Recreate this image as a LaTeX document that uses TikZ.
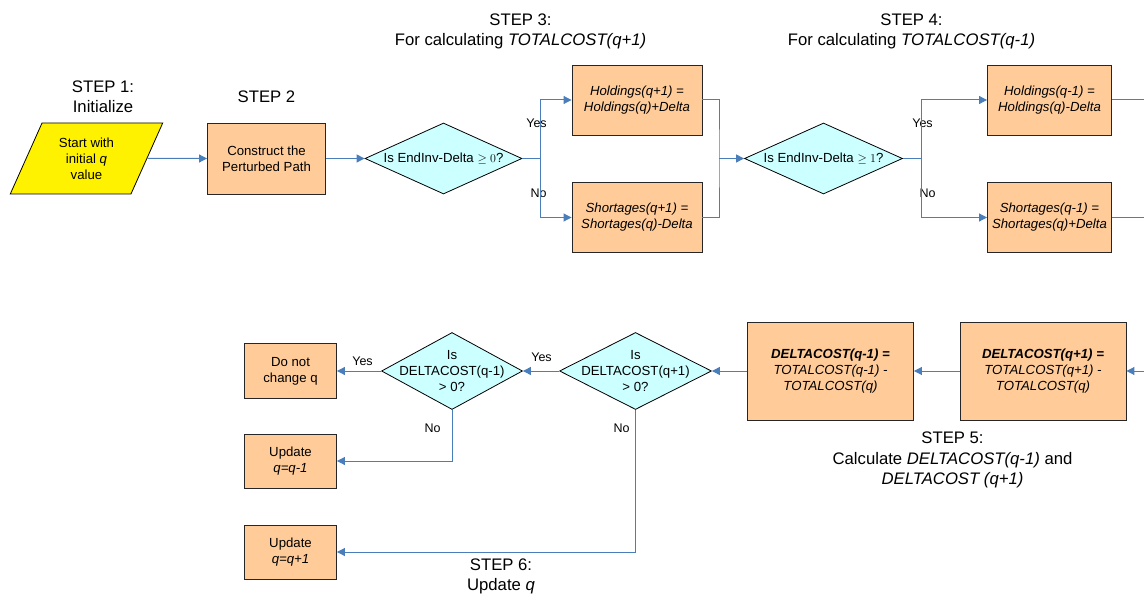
\documentclass[tikz,border=0pt]{standalone}
\usepackage{fontspec}
\setmainfont{Liberation Sans}
\usetikzlibrary{shapes.geometric, arrows.meta}
\definecolor{boxorange}{RGB}{255,204,153}
\definecolor{diacyan}{RGB}{204,255,255}
\definecolor{flowblue}{RGB}{74,126,187}
\newcommand{\flowfont}{\fontsize{13.2}{16}\selectfont}
\newcommand{\stepfont}{\fontsize{16.7}{20.5}\selectfont}
\newcommand{\lblfont}{\fontsize{12.5}{14}\selectfont}
\tikzstyle{io} = [trapezium, 
trapezium stretches=true, 
trapezium left angle=65, 
trapezium right angle=115,
minimum width=153pt, 
minimum height=71pt, 
inner sep=1pt,
align=center, 
draw=black, line width=0.8pt,
fill=yellow, font=\flowfont]
\tikzstyle{process} = [rectangle, 
minimum width=130pt, 
minimum height=70pt, 
inner sep=2pt,
align=center,
draw=black!85, line width=0.9pt,
fill=boxorange, font=\flowfont]
\tikzstyle{decision} = [diamond, 
shape aspect=2.2,
minimum width=157pt, 
minimum height=71pt, 
inner sep=0pt,
align=center,
draw=black, line width=0.8pt,
fill=diacyan, font=\flowfont]
\tikzstyle{dtext} = [align=center, inner sep=0pt, font=\flowfont]
\tikzstyle{stepnote} = [align=center, font=\stepfont]
\tikzstyle{lbl} = [inner sep=0pt, font=\lblfont]
\tikzstyle{flow} = [draw=flowblue, line width=1pt]

\begin{document}
\begin{tikzpicture}[x=1pt, y=1pt, node distance=180pt, >={Triangle[length=8pt,width=8pt]}]
\useasboundingbox (0,0) rectangle (1144,-596);
\node (start) [io] at (86.5,-158.5) {Start with\\initial \textit{q}\\value};
\node (perturb) [process, right of=start, minimum width=118pt, minimum height=71pt] {Construct the\\Perturbed Path};
\node (dec1) [decision, right of=perturb, xshift=-3pt] {Is EndInv-Delta $\geq 0$?};
\node (hold1) [process, right of=dec1, xshift=13.5pt, yshift=58.5pt] {\textit{Holdings(q+1) =}\\\textit{Holdings(q)+Delta}};
\node (sh1) [process, below of=hold1, yshift=62.5pt] {\textit{Shortages(q+1) =}\\\textit{Shortages(q)-Delta}};
\coordinate (merge1) at (719,-158.5);
\node (dec2) [decision, right of=dec1, xshift=200pt, minimum width=158pt] {Is EndInv-Delta $\geq 1$?};
\node (hold2) [process, right of=dec2, xshift=46pt, yshift=58.5pt, minimum width=124pt] {\textit{Holdings(q-1) =}\\\textit{Holdings(q)-Delta}};
\node (sh2) [process, below of=hold2, yshift=62.5pt, minimum width=124pt] {\textit{Shortages(q-1) =}\\\textit{Shortages(q)+Delta}};
\coordinate (out1) at (1144,-100);
\coordinate (out2) at (1144,-217.5);

\node (dc2) [process, below of=sh2, xshift=-6.5pt, yshift=26.5pt, minimum width=166pt, minimum height=98pt] {\textbf{\textit{DELTACOST(q+1) =}}\\\textit{TOTALCOST(q+1) -}\\\textit{TOTALCOST(q)}};
\node (dc1) [process, left of=dc2, xshift=-32.5pt, minimum width=166pt, minimum height=98pt] {\textbf{\textit{DELTACOST(q-1) =}}\\\textit{TOTALCOST(q-1) -}\\\textit{TOTALCOST(q)}};
\coordinate (in5) at (1144,-371);
\node (dec4) [decision, left of=dc1, xshift=-15pt, minimum width=152pt, minimum height=77pt] {};
\node (dec4txt) [dtext] at (dec4) {Is\\DELTACOST(q+1)\\> 0?};
\node (dec3) [decision, left of=dec4, xshift=-3.5pt, minimum width=141pt, minimum height=77pt] {};
\node (dec3txt) [dtext] at (dec3) {Is\\DELTACOST(q-1)\\> 0?};
\node (keep) [process, left of=dec3, xshift=18.5pt, minimum width=92pt, minimum height=55pt] {Do not\\change q};
\node (upm) [process, below of=keep, yshift=90pt, minimum width=92pt, minimum height=54pt] {Update\\\textit{q=q-1}};
\node (upp) [process, below of=upm, yshift=89pt, minimum width=92pt, minimum height=54pt] {Update\\\textit{q=q+1}};

\node (step1) [stepnote, above of=start, node distance=61.5pt, xshift=16.5pt] {STEP 1:\\Initialize};
\node (step2) [stepnote, above of=perturb, node distance=61.5pt] {STEP 2};
\node (step3) [stepnote, above of=dec1, node distance=127pt, xshift=77pt] {STEP 3:\\For calculating \textit{TOTALCOST(q+1)}};
\node (step4) [stepnote, above of=dec2, node distance=127pt, xshift=88pt] {STEP 4:\\For calculating \textit{TOTALCOST(q-1)}};
\node (step5) [stepnote, below of=dc1, node distance=89pt, xshift=122pt] {STEP 5:\\Calculate \textit{DELTACOST(q-1)} and\\\textit{DELTACOST (q+1)}};
\node (step6) [stepnote, below of=dec3, node distance=205.5pt, xshift=49pt] {STEP 6:\\Update \textit{q}};

\node (yes1) [lbl, right of=dec1, node distance=93pt, yshift=35.5pt] {Yes};
\node (no1) [lbl, right of=dec1, node distance=95pt, yshift=-34.5pt] {No};
\node (yes2) [lbl, right of=dec2, node distance=99pt, yshift=35.5pt] {Yes};
\node (no2) [lbl, right of=dec2, node distance=104pt, yshift=-34.5pt] {No};
\node (yes3) [lbl, left of=dec3, node distance=89.5pt, yshift=9.5pt] {Yes};
\node (yes4) [lbl, left of=dec4, node distance=94pt, yshift=13.5pt] {Yes};
\node (no3) [lbl, below of=dec3, node distance=57.5pt, xshift=-19.5pt] {No};
\node (no4) [lbl, below of=dec4, node distance=57.5pt, xshift=-14pt] {No};

\draw [flow, ->] (start) -- (perturb);
\draw [flow, ->] (perturb) -- (dec1);
\draw [flow, ->] (dec1.east) -- ++(18pt,0) |- (hold1);
\draw [flow, ->] (dec1.east) -- ++(18pt,0) |- (sh1);
\draw [flow] (hold1) -| (merge1) |- (sh1);
\draw [flow, ->] (merge1) -- (dec2);
\draw [flow, ->] (dec2.east) -- ++(19pt,0) |- (hold2);
\draw [flow, ->] (dec2.east) -- ++(19pt,0) |- (sh2);
\draw [flow] (hold2) -- (out1);
\draw [flow] (sh2) -- (out2);
\draw [flow, ->] (in5) -- (dc2);
\draw [flow, ->] (dc2) -- (dc1);
\draw [flow, ->] (dc1) -- (dec4);
\draw [flow, ->] (dec4) -- (dec3);
\draw [flow, ->] (dec3) -- (keep);
\draw [flow, ->] (dec3) |- (upm);
\draw [flow, ->] (dec4) |- (upp);
\end{tikzpicture}
\end{document}
